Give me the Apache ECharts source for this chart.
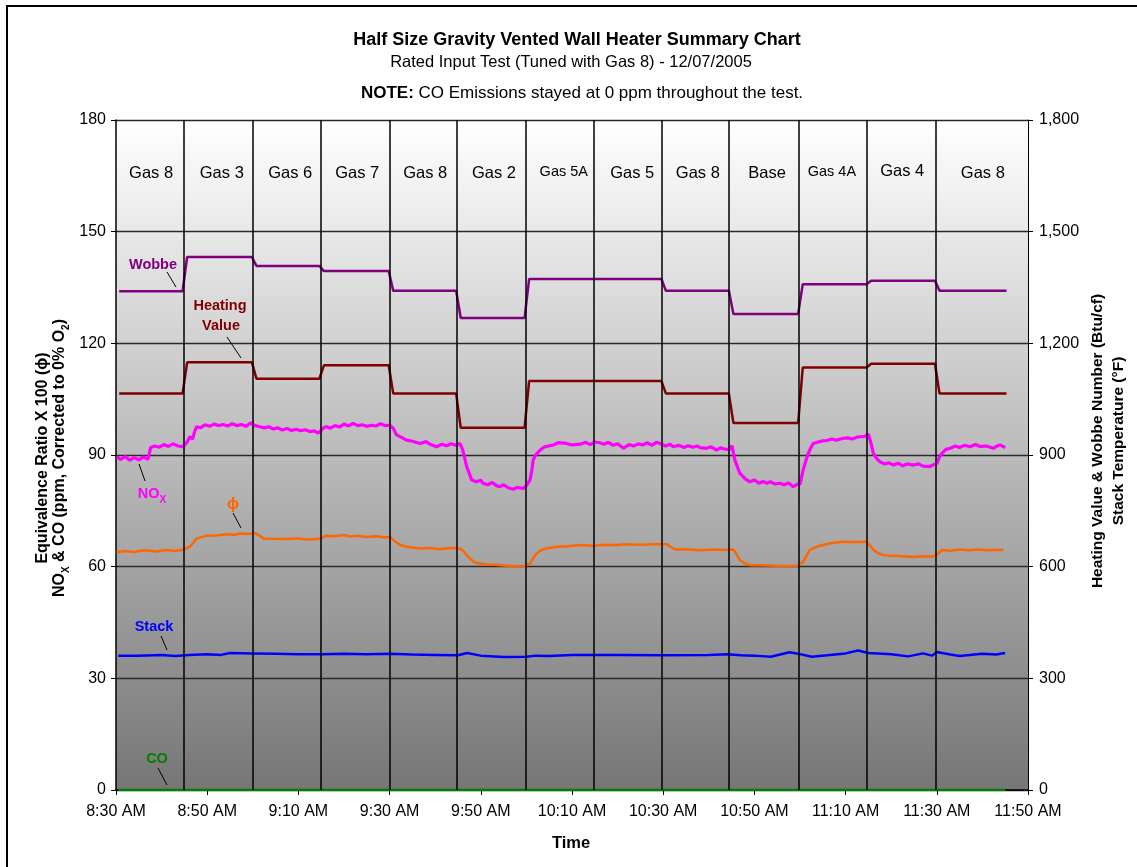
<!DOCTYPE html>
<html>
<head>
<meta charset="utf-8">
<script src="https://cdn.jsdelivr.net/npm/echarts@6/dist/echarts.min.js"></script>
<style>
html,body{margin:0;padding:0;background:#fff;}
#chart{width:1137px;height:867px;}
</style>
</head>
<body>
<div id="chart"></div>
<script>
// ---- DATA (x in minutes after 8:30 AM) ----
const xTickLabels = ['8:30 AM','8:50 AM','9:10 AM','9:30 AM','9:50 AM','10:10 AM','10:30 AM','10:50 AM','11:10 AM','11:30 AM','11:50 AM'];
const gasNames = ['Gas 8','Gas 3','Gas 6','Gas 7','Gas 8','Gas 2','Gas 5A','Gas 5','Gas 8','Base','Gas 4A','Gas 4','Gas 8'];
const gasLabelTimes = [7.7, 23.2, 38.2, 52.9, 67.8, 82.9, 98.2, 113.2, 127.6, 142.8, 157, 172.4, 190.1];
const gasChangeTimes = [14.8, 30, 44.8, 60, 74.8, 89.9, 104.8, 119.7, 134.4, 149.8, 164.7, 179.8];
const segStart = [0.7, 15.6, 30.8, 45.6, 60.8, 75.6, 90.6, 105.6, 120.6, 135.4, 150.6, 165.6, 180.6];
const segEnd   = [14.6, 29.8, 44.6, 59.8, 74.6, 89.6, 104.6, 119.6, 134.4, 149.6, 164.6, 179.6, 195.3];
const wobbe        = [1340, 1432, 1408, 1394, 1341, 1268, 1373, 1373, 1341, 1279, 1359, 1368, 1341];
const heatingValue = [1065, 1149, 1105, 1141, 1065, 973, 1099, 1099, 1065, 986, 1135, 1145, 1065];

const nox = [[0.2,89.5],[1,88.8],[2,89.6],[3,88.6],[4,89.3],[5,88.7],[6,89.5],[7,88.8],[7.4,89.2],[7.6,92.0],[8.5,92.4],[9.5,92.1],[10.5,92.8],[11.5,92.3],[12.5,93.0],[13.5,92.5],[14.4,92.2],[15,92.6],[15.6,93.5],[16.2,94.9],[16.8,94.3],[17.3,96.5],[17.7,97.6],[18.5,97.3],[19.5,98.1],[20.5,97.7],[21.5,98.3],[22.5,97.9],[23.5,98.2],[24.5,97.8],[25.5,98.4],[26.5,97.9],[27.5,98.2],[28.5,97.7],[29.5,98.6],[30.5,97.9],[31.5,97.6],[32.5,97.3],[33.5,97.6],[34.5,97.0],[35.5,97.3],[36.5,96.7],[37.5,97.1],[38.5,96.6],[39.5,96.9],[40.5,96.5],[41.5,96.8],[42.5,96.3],[43.5,96.5],[44.3,95.9],[45,96.6],[45.6,97.4],[46.2,97.6],[47,97.2],[48,97.9],[49,97.5],[50,98.3],[51,97.8],[52,98.5],[53,97.9],[54,98.1],[55,97.7],[56,98.0],[57,97.8],[58,98.4],[59,97.9],[60,98.0],[60.8,97.2],[61.5,95.4],[62.5,94.8],[63.7,94.0],[65,93.7],[66.7,93.1],[68,93.6],[69,92.8],[70.3,92.2],[71.5,92.9],[72.5,92.5],[73.5,93.0],[74.5,92.6],[75.4,93.1],[76.0,91.5],[76.5,89],[76.9,86.9],[77.5,85.0],[78,83.3],[79,82.8],[80,83.2],[80.5,82.4],[81.5,82.0],[82.5,82.6],[83.5,81.7],[84.2,81.5],[85,82.0],[86,81.2],[87.1,80.8],[88,81.3],[89.3,81.0],[90,81.8],[90.8,83.3],[91.2,86],[91.5,88.7],[92,90],[93,91.3],[94,92.2],[95.9,92.7],[97,93.3],[98.8,93.1],[100,92.7],[101.8,92.9],[103,93.4],[104,92.8],[105,93.5],[106.1,93.3],[107,92.9],[108,93.4],[109,92.6],[110,93.0],[111.3,91.8],[112.5,92.8],[113.5,92.4],[114.5,93.0],[115.6,92.7],[116.5,93.3],[117.5,92.6],[118.5,93.4],[119.3,93.1],[120.5,92.4],[121.5,92.9],[122.2,92.2],[123.5,92.6],[124.5,92.0],[125.5,92.5],[126.5,92.1],[127.5,92.4],[128.1,92.0],[129.5,91.8],[130.5,92.2],[131.7,91.3],[132.5,91.9],[133.5,91.6],[134.6,91.5],[135.1,92.5],[135.7,88.7],[136.8,85.1],[138,83.6],[139,82.8],[140,83.3],[141,82.4],[142,82.9],[142.7,82.4],[143.5,82.8],[144.5,82.2],[145.6,82.4],[146.5,82.0],[147.5,82.5],[148.5,81.5],[149.5,82.2],[150,82.2],[150.7,86],[151.3,88.5],[151.8,90.4],[152.4,92],[152.9,93.1],[154,93.5],[155,93.8],[155.9,93.9],[157,94.3],[158,94.0],[159.5,94.5],[160.5,94.6],[161.5,94.3],[162.5,94.8],[163.2,94.9],[164.2,95.0],[165,95.6],[165.5,93.5],[166.1,90.4],[166.8,89.1],[167.5,88.2],[168.5,87.6],[169.5,87.9],[170.5,87.3],[171.5,87.8],[172.5,87.1],[173.5,87.6],[174.9,87.3],[176,87.6],[177,87.0],[178.5,86.9],[179.3,87.4],[180,87.7],[180.6,89.5],[181.1,90.4],[182,91.5],[183,91.8],[184,92.4],[185,92.0],[186,92.6],[187.3,92.2],[188.5,92.8],[189.5,92.3],[190.9,92.4],[192.4,91.8],[193.2,92.4],[193.9,92.7],[195,92.0]];

const phi = [[0.1,63.9],[2,64.2],[4,63.9],[6,64.4],[7.5,64.3],[9,64.1],[11,64.5],[13,64.2],[14.4,64.5],[15.3,64.8],[16.2,65.4],[17,66.5],[17.7,67.6],[19,68.0],[19.9,68.3],[22,68.4],[24.3,68.7],[26,68.6],[27.2,68.9],[29,68.8],[30.5,69.0],[31.3,68.5],[32.3,67.6],[34.5,67.5],[37.4,67.4],[40,67.6],[42,67.3],[44.4,67.4],[45.3,67.9],[46.2,68.3],[48,68.2],[49.8,68.5],[51.3,68.1],[53,68.3],[55,68.0],[57,68.2],[58.5,67.9],[60.1,67.9],[61.2,66.8],[62.3,65.8],[64,65.3],[66.7,64.9],[69,65.0],[71,64.7],[73,65.0],[75.4,64.9],[76.2,64.2],[76.9,63.1],[78.4,61.3],[79.5,60.9],[81.3,60.6],[83,60.5],[85,60.3],[87,60.2],[89.3,60.0],[90.8,60.9],[91.5,62.3],[92.3,63.6],[93.2,64.4],[94.4,64.9],[96,65.2],[97.4,65.4],[99,65.5],[101.8,65.8],[104.7,65.6],[107,65.9],[110,65.8],[112,66.0],[115,65.9],[118,66.0],[120.8,66.0],[121.7,65.3],[122.6,64.6],[125,64.7],[128,64.4],[131,64.6],[133.9,64.5],[135.4,64.6],[136.1,63.3],[136.8,61.8],[138,60.9],[139,60.4],[141,60.4],[143.5,60.3],[146,60.2],[149.3,60.2],[150.7,61.3],[151.4,62.9],[152.2,64.5],[154,65.5],[155.9,66.1],[157.5,66.4],[159.5,66.7],[162,66.6],[164.6,66.7],[165.4,65.6],[166.1,64.5],[167.2,63.6],[168.3,63.1],[170,62.9],[172.5,62.8],[175,62.6],[177,62.8],[179.2,62.7],[180.2,63.4],[181.1,64.5],[183,64.3],[185,64.6],[187,64.4],[189,64.6],[191,64.4],[193,64.5],[194.6,64.5]];

const stack = [[0.5,361],[5,361],[10,363],[13,360],[16,363],[20,365],[23,363],[25,368],[30,367],[35,366],[40,365],[45,365],[50,366],[55,365],[60,366],[65,364],[70,363],[75,362],[77,368],[80,361],[85,357],[90,358],[92,361],[95,360],[100,363],[110,363],[120,362],[130,363],[134,365],[137,362],[140,361],[143.6,358],[147.7,370],[150,365],[152.6,358],[156,362],[160,367],[162.7,375],[165,368],[170,365],[173.7,359],[177,367],[179,361],[180,371],[183,364],[185,360],[190,366],[193,364],[195,368]];

const co = [[0.5,0],[195,0]];

// ---- build ----
function stepLine(vals){
  const out=[];
  for(let i=0;i<vals.length;i++){ out.push([segStart[i],vals[i]]); out.push([segEnd[i],vals[i]]); }
  return out;
}
const FONT = '"Liberation Sans", Arial, sans-serif';
const chart = echarts.init(document.getElementById('chart'));

const gasLabelData = gasNames.map((n,i)=>{
  const small = (n==='Gas 5A'||n==='Gas 4A');
  return {
    name:n, value:[gasLabelTimes[i], n==='Gas 4'?163.9:(small?164.0:163.3)],
    label:{fontSize:small?14.5:16.5}
  };
});

function leader(x1,y1,x2,y2){
  return {type:'line',shape:{x1,y1,x2,y2},style:{stroke:'#000',lineWidth:1},z:100};
}
function ann(text,x,y,color,size){
  return {type:'text',x,y,z:100,style:{text,fill:color,font:'bold '+(size||14.5)+'px '+FONT,align:'center',verticalAlign:'middle'}};
}

const option = {
  animation:false,
  backgroundColor:'#fff',
  grid:{left:116,right:109,top:120,bottom:77,show:true,borderWidth:0,
    backgroundColor:new echarts.graphic.LinearGradient(0,0,0,1,[{offset:0,color:'#ffffff'},{offset:1,color:'#767676'}])},
  xAxis:{type:'value',min:0,max:200,interval:20,
    axisLine:{show:true,lineStyle:{color:'#000',width:1.5}},
    axisTick:{show:true,length:5,lineStyle:{color:'#000'}},
    splitLine:{show:false},
    axisLabel:{color:'#000',fontSize:16,fontFamily:FONT,margin:14,formatter:v=>xTickLabels[Math.round(v/20)]}
  },
  yAxis:[
    {type:'value',min:0,max:180,interval:30,position:'left',
     axisLine:{show:true,lineStyle:{color:'#000',width:1.5}},
     axisTick:{show:true,length:5,lineStyle:{color:'#000'}},
     splitLine:{show:true,lineStyle:{color:'#2a2a2a',width:1.3}},
     axisLabel:{color:'#000',fontSize:16,fontFamily:FONT,margin:10}},
    {type:'value',min:0,max:1800,interval:300,position:'right',
     axisLine:{show:true,lineStyle:{color:'#000',width:1}},
     axisTick:{show:true,length:5,lineStyle:{color:'#000'}},
     splitLine:{show:false},
     axisLabel:{color:'#000',fontSize:16,fontFamily:FONT,margin:11,formatter:v=>v.toLocaleString('en-US')}}
  ],
  series:[
    {name:'sep',type:'line',data:[],yAxisIndex:0,z:1,
     markLine:{silent:true,symbol:['none','none'],label:{show:false},
       lineStyle:{color:'#000',width:1.5,type:'solid'},
       data:gasChangeTimes.map(t=>({xAxis:t}))}},
    {name:'Gas',type:'scatter',yAxisIndex:0,symbolSize:0,data:gasLabelData,z:5,silent:true,
     itemStyle:{color:'#000'},
     label:{show:true,position:'top',distance:0,formatter:p=>p.name,color:'#000',opacity:1,textBorderWidth:0,fontFamily:FONT}},
    {name:'CO',type:'line',yAxisIndex:0,data:co,showSymbol:false,lineStyle:{color:'#008000',width:2.5},z:3},
    {name:'Stack',type:'line',yAxisIndex:1,data:stack,showSymbol:false,lineStyle:{color:'#0000ff',width:2.5},z:3},
    {name:'phi',type:'line',yAxisIndex:0,data:phi,showSymbol:false,lineStyle:{color:'#ff6600',width:2.5},z:3},
    {name:'NOx',type:'line',yAxisIndex:0,data:nox,showSymbol:false,lineStyle:{color:'#ff00ff',width:3.2},z:3},
    {name:'Heating Value',type:'line',yAxisIndex:1,data:stepLine(heatingValue),showSymbol:false,lineStyle:{color:'#800000',width:2.5},z:3},
    {name:'Wobbe',type:'line',yAxisIndex:1,data:stepLine(wobbe),showSymbol:false,lineStyle:{color:'#800080',width:2.5},z:3}
  ],
  graphic:[
    {type:'rect',shape:{x:7,y:6,width:1200,height:1000},style:{fill:'none',stroke:'#000',lineWidth:2},z:100},
    {type:'text',x:577,y:40,style:{text:'Half Size Gravity Vented Wall Heater Summary Chart',font:'bold 18px '+FONT,fill:'#000',align:'center',verticalAlign:'middle'}},
    {type:'text',x:571,y:62,style:{text:'Rated Input Test (Tuned with Gas 8) - 12/07/2005',font:'16.5px '+FONT,fill:'#000',align:'center',verticalAlign:'middle'}},
    {type:'text',x:582,y:93,style:{text:'{b|NOTE:} CO Emissions stayed at 0 ppm throughout the test.',font:'17px '+FONT,fill:'#000',align:'center',verticalAlign:'middle',
      rich:{b:{font:'bold 17px '+FONT,fill:'#000'}}}},
    {type:'text',x:571,y:843,style:{text:'Time',font:'bold 16.5px '+FONT,fill:'#000',align:'center',verticalAlign:'middle'}},
    {type:'text',x:51,y:458,rotation:Math.PI/2,style:{
      text:'{t|Equivalence Ratio X 100 (ϕ)}\n{t|NO}{s|X}{t| & CO (ppm, Corrected to 0% O}{s|2}{t|)}',
      align:'center',verticalAlign:'middle',fill:'#000',
      rich:{t:{font:'bold 16px '+FONT,fill:'#000',lineHeight:17},s:{font:'bold 10px '+FONT,fill:'#000',verticalAlign:'bottom',lineHeight:17,padding:[0,0,-3,0]}}}},
    {type:'text',x:1108,y:441,rotation:Math.PI/2,style:{
      text:'Heating Value & Wobbe Number (Btu/cf)\nStack Temperature (°F)',
      font:'bold 15.5px '+FONT,lineHeight:21,fill:'#000',align:'center',verticalAlign:'middle'}},
    ann('Wobbe',153,265,'#800080'),
    leader(167,272,176,287),
    ann('Heating',220,306,'#800000'),
    ann('Value',221,326,'#800000'),
    leader(227,337,241,358),
    {type:'text',x:152,y:494,z:100,style:{text:'{t|NO}{s|X}',align:'center',verticalAlign:'middle',
      rich:{t:{font:'bold 14.5px '+FONT,fill:'#ff00ff'},s:{font:'bold 10px '+FONT,fill:'#ff00ff',verticalAlign:'bottom',padding:[0,0,-4,0]}}}},
    leader(139,464,145,481),
    ann('ϕ',233,505,'#ff6600',16),
    leader(233,513,241,528),
    ann('Stack',154,627,'#0000ff'),
    leader(161,636,167,650),
    ann('CO',157,759,'#008000'),
    leader(158,768,167,785)
  ]
};
chart.setOption(option);
</script>
</body>
</html>
